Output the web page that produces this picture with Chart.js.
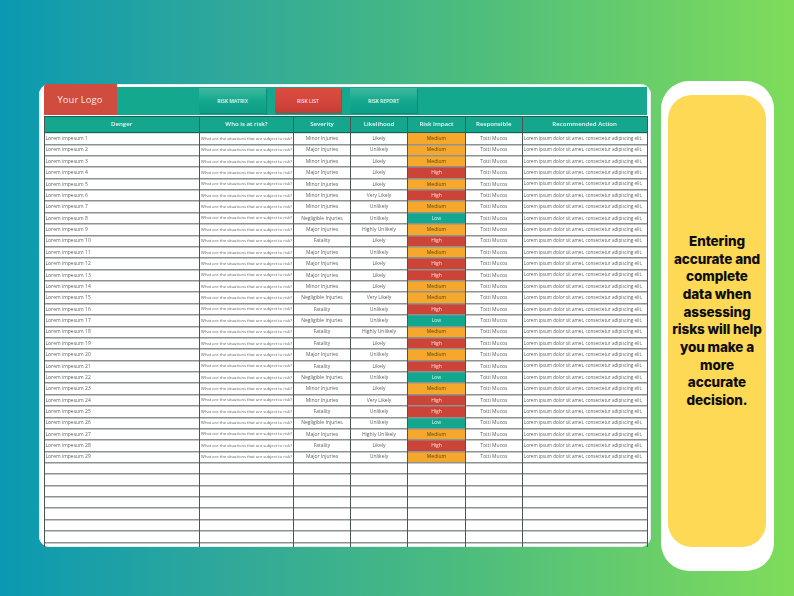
<!DOCTYPE html>
<html><head><meta charset="utf-8">
<script src="https://cdn.jsdelivr.net/npm/chart.js@4"></script>
<style>
html,body{margin:0;padding:0}
body{width:794px;height:596px;overflow:hidden;position:relative;background:linear-gradient(90deg,#0a99b2 0%,#2fa89a 28%,#4cbc7e 58%,#7fdc5a 100%)}
.abs{position:absolute;box-sizing:border-box}
#card{left:39px;top:84px;width:612px;height:463px;background:#fff;border-radius:11px;box-shadow:inset 0 0 0 1px #e4eeee}
#banner{left:44px;top:87px;width:603px;height:28px;background:#14a88f}
#logo{left:44px;top:84px;width:73px;height:31px;background:#cf4c3f;color:#fbe9e4;font:500 9.4px "Open Sans";letter-spacing:.1px;display:flex;align-items:center;justify-content:center;border-radius:3px 0 0 0;padding-right:1px}
.btn{top:88px;height:25px;color:#eafaf5;font:600 5px "Open Sans";display:flex;align-items:center;justify-content:center;border-radius:1px;box-shadow:1px 1px 1px rgba(0,80,70,.35)}
.teal{background:linear-gradient(180deg,#3fb89f 0%,#12a78d 55%,#0d9f87 100%)}
.red{background:linear-gradient(180deg,#dc4d40 0%,#d2443a 60%,#c53c33 100%);color:#fde}
#outer{left:661px;top:81px;width:113px;height:490px;background:#fff;border-radius:28px}
#inner{left:668px;top:95px;width:98px;height:452px;background:#fdd955;border-radius:24px}
#msg{left:668px;top:233px;width:98px;text-align:center;color:#0d0d0d;font:800 13.5px/17.65px Inter;letter-spacing:-.1px}
canvas{position:absolute;left:0;top:0;filter:blur(.3px)}
</style></head>
<body>
<div class="abs" id="card"></div>
<div class="abs" id="banner"></div>
<div class="abs" id="logo">Your Logo</div>
<div class="abs btn teal" style="left:199px;width:67px">RISK MATRIX</div>
<div class="abs btn red" style="left:275px;width:66px">RISK LIST</div>
<div class="abs btn teal" style="left:350px;width:67px">RISK REPORT</div>
<div class="abs" id="outer"></div>
<div class="abs" id="inner"></div>
<div class="abs" id="msg">Entering<br>accurate and<br>complete<br>data when<br>assessing<br>risks will help<br>you make a<br>more<br>accurate<br>decision.</div>
<canvas id="c" width="794" height="596"></canvas>
<script>
const columnHeaders = ['Denger','Who is at risk?','Severity','Likelihood','Risk Impact','Responsible','Recommended Action'];
const dangers = ['Lorem impesum 1','Lorem impesum 2','Lorem impesum 3','Lorem impesum 4','Lorem impesum 5','Lorem impesum 6','Lorem impesum 7','Lorem impesum 8','Lorem impesum 9','Lorem impesum 10','Lorem impesum 11','Lorem impesum 12','Lorem impesum 13','Lorem impesum 14','Lorem impesum 15','Lorem impesum 16','Lorem impesum 17','Lorem impesum 18','Lorem impesum 19','Lorem impesum 20','Lorem impesum 21','Lorem impesum 22','Lorem impesum 23','Lorem impesum 24','Lorem impesum 25','Lorem impesum 26','Lorem impesum 27','Lorem impesum 28','Lorem impesum 29'];
const severity = ['Minor Injuries','Major Injuries','Minor Injuries','Major Injuries','Minor Injuries','Minor Injuries','Minor Injuries','Negligible Injuries','Major Injuries','Fatality','Major Injuries','Major Injuries','Major Injuries','Minor Injuries','Negligible Injuries','Fatality','Negligible Injuries','Fatality','Fatality','Major Injuries','Fatality','Negligible Injuries','Minor Injuries','Minor Injuries','Fatality','Negligible Injuries','Major Injuries','Fatality','Major Injuries'];
const likelihood = ['Likely','Unlikely','Likely','Likely','Likely','Very Likely','Unlikely','Unlikely','Highly Unlikely','Likely','Unlikely','Likely','Likely','Likely','Very Likely','Unlikely','Unlikely','Highly Unlikely','Likely','Unlikely','Likely','Unlikely','Likely','Very Likely','Unlikely','Unlikely','Highly Unlikely','Likely','Unlikely'];
const riskImpact = ['Medium','Medium','Medium','High','Medium','High','Medium','Low','Medium','High','Medium','High','High','Medium','Medium','High','Low','Medium','High','Medium','High','Low','Medium','High','High','Low','Medium','High','Medium'];
const whoText = 'What are the situations that are subject to risk?';
const responsibleText = 'Totti Mucos';
const actionText = 'Lorem ipsum dolor sit amet, consectetur adipiscing elit,';

const colEdges = [0,155.3,249.7,306.3,363.7,421.3,478.3,603];
const ROW_TOTAL = 36, HEADER_UNITS = 1.495, TAIL_UNITS = 0.41;
const riskFill = {Low:'#12a78f',Medium:'#f6a82c',High:'#cc4437'};
const riskInk = {Low:'#d8f5ee',Medium:'#5b4300',High:'#fbdcd6'};
const RISK_COL = 4;

const tableText = {
  id:'tableText',
  afterDatasetsDraw(ch){
    const {ctx,scales:{x,y}} = ch;
    const mid = c => x.getPixelForValue((colEdges[c]+colEdges[c+1])/2);
    ctx.save();
    ctx.textBaseline='middle';
    ctx.textAlign='center';
    ctx.fillStyle='#eefaf6';
    ctx.font='600 6.1px "Open Sans"';
    const hy = y.getPixelForValue(-HEADER_UNITS/2);
    columnHeaders.forEach((h,c)=>ctx.fillText(h,mid(c),hy));
    dangers.forEach((d,i)=>{
      const py = y.getPixelForValue(i+0.5);
      ctx.fillStyle='#5f5f5f';
      ctx.font='5px "Open Sans"';
      ctx.textAlign='left';
      ctx.fillText(d,x.getPixelForValue(colEdges[0])+1.5,py);
      ctx.textAlign='center';
      ctx.fillText(severity[i],mid(2),py);
      ctx.fillText(likelihood[i],mid(3),py);
      ctx.fillText(responsibleText,mid(5),py);
      ctx.font='4.15px "Open Sans"';
      ctx.fillText(whoText,mid(1),py);
      ctx.font='4.6px "Open Sans"';
      ctx.textAlign='left';
      ctx.fillText(actionText,x.getPixelForValue(colEdges[6])+1.5,py);
      ctx.textAlign='center';
      ctx.font='5px "Open Sans"';
      ctx.fillStyle=riskInk[riskImpact[i]];
      ctx.fillText(riskImpact[i],mid(RISK_COL),py);
    });
    ctx.restore();
  }
};

new Chart(document.getElementById('c'),{
  type:'bar',
  data:{datasets:[
    {label:'Risk Impact',
     data:riskImpact.map((r,i)=>({x:[colEdges[RISK_COL],colEdges[RISK_COL+1]],y:i+0.5})),
     backgroundColor:riskImpact.map(r=>riskFill[r]),
     categoryPercentage:1,barPercentage:1,borderWidth:0},
    {label:'Header',
     data:columnHeaders.map((h,c)=>({x:[colEdges[c],colEdges[c+1]],y:-HEADER_UNITS/2})),
     backgroundColor:'#15a78e',barThickness:17,borderWidth:0}
  ]},
  options:{
    indexAxis:'y',responsive:false,animation:false,devicePixelRatio:1,
    layout:{padding:{left:44,top:116,right:147,bottom:49}},
    plugins:{legend:{display:false},tooltip:{enabled:false}},
    datasets:{bar:{grouped:false}},
    scales:{
      x:{type:'linear',min:0,max:603,position:'top',
        afterBuildTicks(s){s.ticks=colEdges.map(v=>({value:v}));},
        afterFit(s){s.height=0;},
        ticks:{display:false},border:{display:false},
        grid:{color:'#4a5554',lineWidth:1,drawTicks:false,z:2}},
      y:{type:'linear',reverse:true,offset:false,min:-HEADER_UNITS,max:ROW_TOTAL+TAIL_UNITS,
        afterBuildTicks(s){const t=[{value:-HEADER_UNITS}];for(let k=0;k<=ROW_TOTAL;k++)t.push({value:k});s.ticks=t;},
        afterFit(s){s.width=0;},
        ticks:{display:false,autoSkip:false},border:{display:false},
        grid:{offset:false,color:c=>c.tick&&c.tick.value<=0?'#1d5f55':'#8e9291',lineWidth:c=>c.tick&&c.tick.value<=0?1:1.5,drawTicks:false,z:1}}
    }
  },
  plugins:[tableText]
});
</script>
</body></html>
